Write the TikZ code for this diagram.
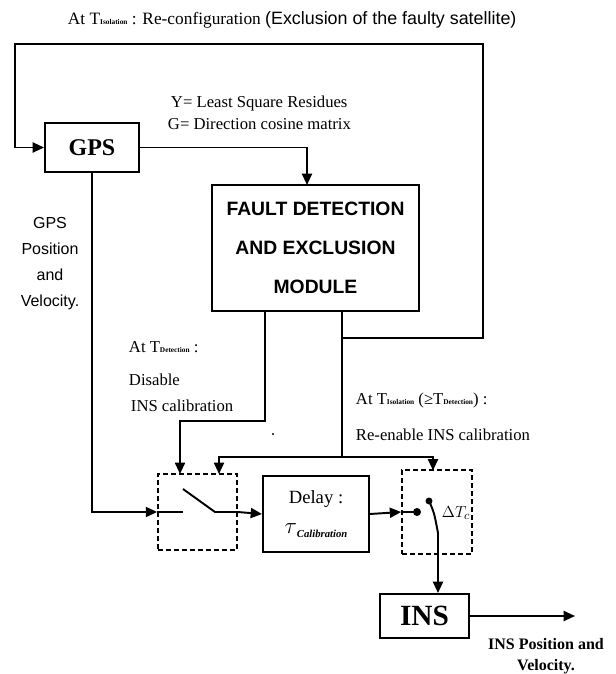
\documentclass[tikz,border=0pt]{standalone}
\usepackage{fontspec}
\setmainfont{Liberation Serif}
\setsansfont{Liberation Sans}
\usetikzlibrary{arrows.meta}
\newcommand\tsub[1]{{\fontsize{5.5}{6}\selectfont\bfseries #1}}
\begin{document}
\begin{tikzpicture}[x=0.75pt,y=-0.75pt,line width=1.45pt,
  blk/.style={draw,line width=1.45pt,inner sep=0pt,align=center},
  dbox/.style={draw,line width=1.3pt,dash pattern=on 3.5pt off 2.5pt,inner sep=0pt},
  arr/.style={-{Triangle[length=8.5pt,width=7.5pt]}},
  lbl/.style={inner sep=0pt,font=\fontsize{12.5}{15}\selectfont},
  sans/.style={inner sep=0pt,font=\sffamily\fontsize{12}{19.5}\selectfont,align=center}]
\fill[white] (0,0) rectangle (616,674);
\useasboundingbox (0,0) rectangle (616,674);

% blocks
\node[blk,minimum width=70.5pt,minimum height=36.75pt,font=\bfseries\fontsize{18}{20}\selectfont] (gps) at (92,147.5) {GPS};
\node[blk,minimum width=155.25pt,minimum height=94.5pt,font=\sffamily\bfseries\fontsize{14.5}{29}\selectfont] (fde) at (315.5,248) {FAULT DETECTION\\AND EXCLUSION\\MODULE};
\node[dbox,minimum width=59.25pt,minimum height=57pt] (sw1) at (197.5,512) {};
\node[blk,minimum width=79.5pt,minimum height=57pt,font=\fontsize{14}{22.5}\selectfont] (delay) at (316,514) {Delay :\\{\fontsize{17}{17}\selectfont$\tau$}\raisebox{-3pt}{\fontsize{8}{8}\selectfont\bfseries\itshape Calibration}};
\node[dbox,minimum width=52.5pt,minimum height=63pt] (sw2) at (437,512) {};
\node[blk,minimum width=66.75pt,minimum height=33pt,font=\bfseries\fontsize{22}{24}\selectfont] (ins) at (424.5,616) {INS};

% labels
\node[lbl,anchor=west,font=\fontsize{13}{15}\selectfont] (ttop) at (67,20) {At T\tsub{Isolation} : Re-configuration {\sffamily\fontsize{13.4}{15}\selectfont(Exclusion of the faulty satellite)}};
\node[lbl,anchor=west] (ylbl) at (170,103) {Y= Least Square Residues};
\node[lbl,anchor=west] (glbl) at (167,124) {G= Direction cosine matrix};
\node[sans] (gpslbl) at (50,264) {GPS\\Position\\and\\Velocity.};
\node[lbl,anchor=west] (det1) at (128,347) {At T\tsub{Detection} :};
\node[lbl,anchor=west] (det2) at (128,380) {Disable};
\node[lbl,anchor=west] (det3) at (130,406) {INS calibration};
\node[lbl,anchor=west] (iso1) at (355,400) {At T\tsub{Isolation} (≥T\tsub{Detection}) :};
\node[lbl,anchor=west] (iso2) at (355,435) {Re-enable INS calibration};
\node[inner sep=0pt,anchor=west,font=\fontsize{13}{15}\selectfont] (dtc) at (441,513) {$\Delta T_c$};
\node[inner sep=0pt,align=center,font=\bfseries\fontsize{12}{16}\selectfont] (inslbl) at (546,656) {INS Position and\\Velocity.};
\fill (273,434) circle (0.8pt);

% coordinates
\coordinate (fdein) at (307,185);
\coordinate (d1) at (265,311);
\coordinate (d2) at (342,311);
\coordinate (fb) at (342,338);
\coordinate (fbr) at (483,338);
\coordinate (fbtr) at (483,44);
\coordinate (fbtl) at (15,44);
\coordinate (b1) at (265,421);
\coordinate (sw1a) at (180,474);
\coordinate (j) at (342,457);
\coordinate (sw1b) at (219,474);
\coordinate (sw2a) at (433,470.5);
\coordinate (gpsdn) at (92,512);
\coordinate (p1) at (183,512);
\coordinate (q1) at (183,489);
\coordinate (q2) at (215,512);
\coordinate (dot1) at (417,512);
\coordinate (dot2) at (429,501);
\coordinate (armend) at (438,533);
\coordinate (insout) at (575,616);

% connectors
\draw[arr] (gps.east) -| (fdein);
\draw[arr] (fb) -- (fbr) -- (fbtr) -- (fbtl) |- (gps.west);
\draw (d2) -- (j);
\draw[arr] (d1) -- (b1) -| (sw1a);
\draw[arr] (j) -| (sw1b);
\draw[arr] (j) -| (sw2a);
\draw[arr] (gps.south) -- (gpsdn) -- (sw1.west);
\draw (sw1.west) -- (p1);
\draw (q1) -- (q2) -- (sw1.east);
\draw[arr] (sw1.east) -- (delay.west);
\draw[arr] (delay.east) -- (sw2.west);
\draw (sw2.west) -- (dot1);
\fill (dot1) circle (3pt);
\fill (dot2) circle (2.6pt);
\draw (dot2) .. controls (434,512) .. (armend);
\draw[arr] (armend) -- (armend |- ins.north);
\draw[arr] (ins.east) -- (insout);
\end{tikzpicture}
\end{document}
